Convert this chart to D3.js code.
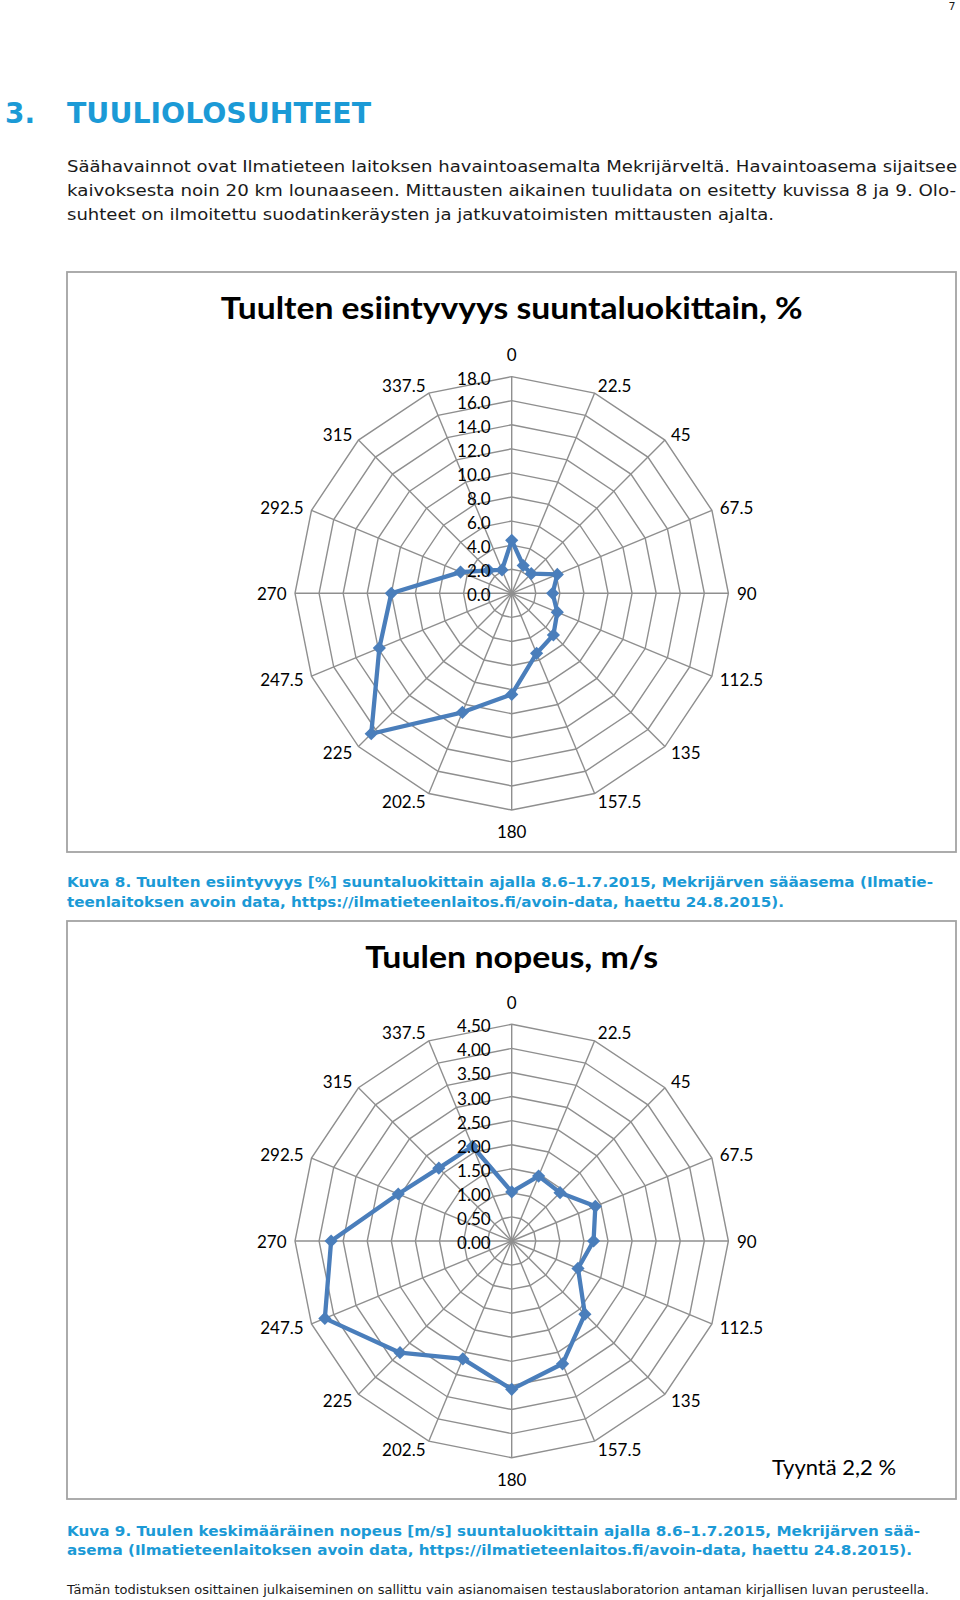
<!DOCTYPE html>
<html>
<head>
<meta charset="utf-8">
<script src="https://cdn.jsdelivr.net/npm/d3@7"></script>
<style>
  body { margin: 0; background: #fff; }
  svg { display: block; }
</style>
</head>
<body>
<svg id="page" width="960" height="1600"></svg>
<script>
"use strict";

// suuntaluokat (astetta)
var directions = [0, 22.5, 45, 67.5, 90, 112.5, 135, 157.5, 180, 202.5, 225, 247.5, 270, 292.5, 315, 337.5];
var directionLabels = ["0", "22.5", "45", "67.5", "90", "112.5", "135", "157.5", "180", "202.5", "225", "247.5", "270", "292.5", "315", "337.5"];

// Kuva 8: esiintyvyys %
var frequency = [4.4, 2.5, 2.3, 4.1, 3.4, 4.1, 4.9, 5.4, 8.4, 10.7, 16.5, 11.9, 10.0, 4.6, 2.7, 2.1];
var frequencyTicks = [0, 2, 4, 6, 8, 10, 12, 14, 16, 18];

// Kuva 9: keskinopeus m/s
var speed = [1.02, 1.46, 1.42, 1.88, 1.70, 1.49, 2.15, 2.76, 3.08, 2.65, 3.28, 4.20, 3.75, 2.55, 2.14, 2.13];
var speedTicks = [0, 0.5, 1, 1.5, 2, 2.5, 3, 3.5, 4, 4.5];

var BLUE_TEXT = "#1b9ad6";
var SERIES = "#4a7ebb";
var GRID = "#8f8f8f";

var svg = d3.select("#page");
svg.append("rect").attr("width", 960).attr("height", 1600).attr("fill", "#fff");

// tekstirivi, leveys lukittu textLengthillä
function textLine(str, x, y, size, opts) {
    opts = opts || {};
    var t = svg.append("text")
        .attr("x", x)
        .attr("y", y)
        .attr("font-family", opts.family || "'DejaVu Sans', Verdana, sans-serif")
        .attr("font-size", size)
        .attr("font-weight", opts.weight || "normal")
        .attr("fill", opts.fill || "#1a1a1a")
        .text(str);
    if (opts.width) {
        t.attr("textLength", opts.width).attr("lengthAdjust", "spacingAndGlyphs");
    }
    if (opts.anchor) t.attr("text-anchor", opts.anchor);
    return t;
}

// sivunumero ja otsikko
textLine("7", 952, 10, 11, { anchor: "middle" });
textLine("3.", 5, 123, 28, { weight: "bold", fill: BLUE_TEXT, width: 30 });
textLine("TUULIOLOSUHTEET", 67, 123, 28, { weight: "bold", fill: BLUE_TEXT, width: 304 });

textLine("Säähavainnot ovat Ilmatieteen laitoksen havaintoasemalta Mekrijärveltä. Havaintoasema sijaitsee", 67, 172, 16, { width: 890 });
textLine("kaivoksesta noin 20 km lounaaseen. Mittausten aikainen tuulidata on esitetty kuvissa 8 ja 9. Olo-", 67, 196, 16, { width: 889 });
textLine("suhteet on ilmoitettu suodatinkeräysten ja jatkuvatoimisten mittausten ajalta.", 67, 220, 16, { width: 707 });

function drawRadar(cfg) {
    var g = svg.append("g");

    g.append("rect")
        .attr("x", cfg.box[0]).attr("y", cfg.box[1])
        .attr("width", cfg.box[2]).attr("height", cfg.box[3])
        .attr("fill", "#fff")
        .attr("stroke", "#a3a3a3")
        .attr("stroke-width", 1.8);

    g.append("text")
        .attr("x", cfg.cx).attr("y", cfg.titleY)
        .attr("text-anchor", "middle")
        .attr("font-family", "Lato, 'Open Sans', sans-serif")
        .attr("font-weight", "bold")
        .attr("font-size", 30)
        .attr("fill", "#000")
        .attr("textLength", cfg.titleWidth)
        .attr("lengthAdjust", "spacingAndGlyphs")
        .text(cfg.title);

    var R = 216.7;
    var ticks = cfg.ticks;
    var r = d3.scaleLinear().domain([0, ticks[ticks.length - 1]]).range([0, R]);
    var angle = d3.scaleLinear().domain([0, 360]).range([0, 2 * Math.PI]);

    var chart = g.append("g").attr("transform", "translate(" + cfg.cx + "," + cfg.cy + ")");

    function px(dir, val) { return r(val) * Math.sin(angle(dir)); }
    function py(dir, val) { return -r(val) * Math.cos(angle(dir)); }

    // renkaat
    chart.selectAll("polygon.ring")
        .data(ticks.slice(1))
        .join("polygon")
        .attr("class", "ring")
        .attr("points", function(v) {
            return directions.map(function(d) { return px(d, v) + "," + py(d, v); }).join(" ");
        })
        .attr("fill", "none")
        .attr("stroke", GRID)
        .attr("stroke-width", 1.4);

    // säteet
    var vmax = ticks[ticks.length - 1];
    chart.selectAll("line.spoke")
        .data(directions)
        .join("line")
        .attr("class", "spoke")
        .attr("x1", 0).attr("y1", 0)
        .attr("x2", function(d) { return px(d, vmax); })
        .attr("y2", function(d) { return py(d, vmax); })
        .attr("stroke", GRID)
        .attr("stroke-width", 1.4);

    // suuntien nimet
    chart.selectAll("text.dir")
        .data(directions)
        .join("text")
        .attr("class", "dir")
        .attr("font-family", "Lato, 'Open Sans', sans-serif")
        .attr("font-size", 17)
        .attr("fill", "#000")
        .attr("dominant-baseline", "central")
        .each(function(d, i) {
            var s = Math.sin(angle(d)), c = Math.cos(angle(d));
            var x = px(d, vmax), y = py(d, vmax);
            var t = d3.select(this).text(directionLabels[i]);
            if (Math.abs(s) < 0.01) {
                t.attr("text-anchor", "middle").attr("x", x).attr("y", y - c * 22);
            } else {
                t.attr("text-anchor", s > 0 ? "start" : "end")
                    .attr("x", x + s * 8.5)
                    .attr("y", y - c * 8.5);
            }
        });

    // sarja
    var pts = directions.map(function(d, i) { return [px(d, cfg.values[i]), py(d, cfg.values[i])]; });
    chart.append("path")
        .attr("d", d3.line().curve(d3.curveLinearClosed)(pts))
        .attr("fill", "none")
        .attr("stroke", SERIES)
        .attr("stroke-width", 4.3)
        .attr("stroke-linejoin", "round");

    var m = 6.6;
    chart.selectAll("path.mark")
        .data(pts)
        .join("path")
        .attr("class", "mark")
        .attr("d", function(p) {
            return "M" + p[0] + "," + (p[1] - m) + "L" + (p[0] + m) + "," + p[1] +
                "L" + p[0] + "," + (p[1] + m) + "L" + (p[0] - m) + "," + p[1] + "Z";
        })
        .attr("fill", SERIES);

    // arvoakselin asteikko
    chart.selectAll("text.tick")
        .data(ticks)
        .join("text")
        .attr("class", "tick")
        .attr("x", -21)
        .attr("y", function(v) { return -r(v) + 1.5; })
        .attr("text-anchor", "end")
        .attr("dominant-baseline", "central")
        .attr("font-family", "Lato, 'Open Sans', sans-serif")
        .attr("font-size", 17)
        .attr("fill", "#000")
        .text(function(v) { return d3.format(cfg.fmt)(v); });

    return g;
}

drawRadar({
    box: [67, 272, 889, 580],
    cx: 511.7, cy: 593.3,
    title: "Tuulten esiintyvyys suuntaluokittain, %",
    titleY: 319, titleWidth: 582,
    ticks: frequencyTicks, values: frequency, fmt: ".1f"
});

textLine("Kuva 8. Tuulten esiintyvyys [%] suuntaluokittain ajalla 8.6–1.7.2015, Mekrijärven sääasema (Ilmatie-", 67, 887, 14.5, { weight: "bold", fill: BLUE_TEXT, width: 866 });
textLine("teenlaitoksen avoin data, https://ilmatieteenlaitos.fi/avoin-data, haettu 24.8.2015).", 67, 907, 14.5, { weight: "bold", fill: BLUE_TEXT, width: 717 });

drawRadar({
    box: [67, 921, 889, 578],
    cx: 511.7, cy: 1241,
    title: "Tuulen nopeus, m/s",
    titleY: 968, titleWidth: 293,
    ticks: speedTicks, values: speed, fmt: ".2f"
});

textLine("Tyyntä 2,2 %", 772, 1475, 21, { family: "Lato, 'Open Sans', sans-serif", fill: "#000", width: 124 });

textLine("Kuva 9. Tuulen keskimääräinen nopeus [m/s] suuntaluokittain ajalla 8.6–1.7.2015, Mekrijärven sää-", 67, 1536, 14.5, { weight: "bold", fill: BLUE_TEXT, width: 853 });
textLine("asema (Ilmatieteenlaitoksen avoin data, https://ilmatieteenlaitos.fi/avoin-data, haettu 24.8.2015).", 67, 1555, 14.5, { weight: "bold", fill: BLUE_TEXT, width: 845 });

textLine("Tämän todistuksen osittainen julkaiseminen on sallittu vain asianomaisen testauslaboratorion antaman kirjallisen luvan perusteella.", 67, 1594, 12.5, { width: 862 });
</script>
</body>
</html>
